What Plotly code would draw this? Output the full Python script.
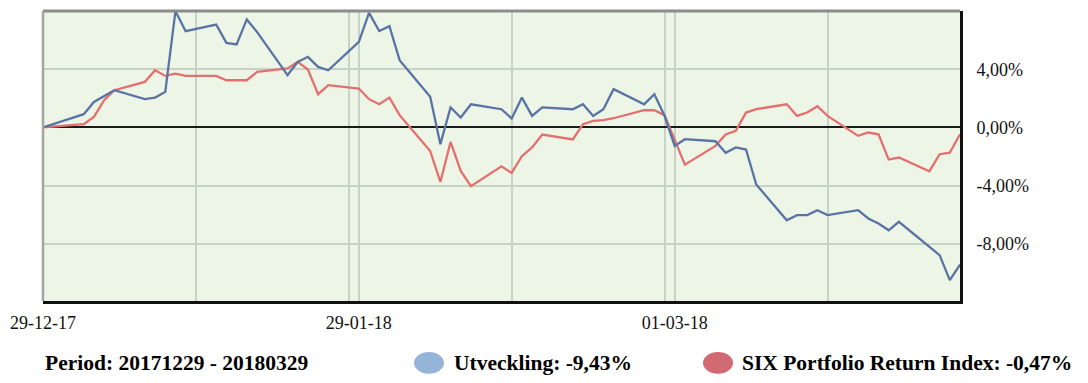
import plotly.graph_objects as go

dates = ["2017-12-29", "2018-01-02", "2018-01-03", "2018-01-04", "2018-01-05", "2018-01-08",
         "2018-01-09", "2018-01-10", "2018-01-11", "2018-01-12", "2018-01-15", "2018-01-16",
         "2018-01-17", "2018-01-18", "2018-01-19", "2018-01-22", "2018-01-23", "2018-01-24",
         "2018-01-25", "2018-01-26", "2018-01-29", "2018-01-30", "2018-01-31", "2018-02-01",
         "2018-02-02", "2018-02-05", "2018-02-06", "2018-02-07", "2018-02-08", "2018-02-09",
         "2018-02-12", "2018-02-13", "2018-02-14", "2018-02-15", "2018-02-16", "2018-02-19",
         "2018-02-20", "2018-02-21", "2018-02-22", "2018-02-23", "2018-02-26", "2018-02-27",
         "2018-02-28", "2018-03-01", "2018-03-02", "2018-03-05", "2018-03-06", "2018-03-07",
         "2018-03-08", "2018-03-09", "2018-03-12", "2018-03-13", "2018-03-14", "2018-03-15",
         "2018-03-16", "2018-03-19", "2018-03-20", "2018-03-21", "2018-03-22", "2018-03-23",
         "2018-03-26", "2018-03-27", "2018-03-28", "2018-03-29"]

utveckling = [0.0,
              0.91, 1.75, 2.17, 2.56, 1.94, 2.05, 2.44, 7.99, 6.61, 7.07, 5.81, 5.70, 7.42, 6.56,
              3.59, 4.50, 4.85, 4.16, 3.93, 5.88, 7.87, 6.62,
              6.96, 4.62, 2.10, -1.15, 1.37, 0.68, 1.59, 1.25, 0.61, 2.05, 0.79, 1.37, 1.25,
              1.59, 0.79, 1.25, 2.63, 1.59, 2.28, 0.80,
              -1.27, -0.81, -0.95, -1.75, -1.38, -1.52, -3.92, -6.38, -6.03, -6.03, -5.69,
              -6.03, -5.69, -6.26, -6.60, -7.07, -6.49, -8.21, -8.78, -10.50, -9.43]

six_index = [0.0,
             0.22, 0.72, 1.87, 2.56, 3.13, 3.93, 3.54, 3.70, 3.54, 3.54, 3.24, 3.24, 3.24, 3.81,
             4.05, 4.50, 3.98, 2.28, 2.90, 2.67, 1.94, 1.59,
             2.05, 0.84, -1.62, -3.75, -1.00, -2.99, -4.04, -2.67, -3.13, -1.98, -1.38, -0.49,
             -0.83, 0.22, 0.45, 0.50, 0.63, 1.18, 1.18, 0.84,
             -0.90, -2.56, -1.27, -0.49, -0.24, 1.02, 1.25, 1.59, 0.79, 1.02, 1.46, 0.79,
             -0.58, -0.35, -0.47, -2.21, -2.07, -3.01, -1.84, -1.73, -0.47]

grid_dates = ["2017-12-29", "2018-01-13", "2018-01-28", "2018-01-29", "2018-02-13",
              "2018-02-28", "2018-03-01", "2018-03-16"]
grid_labels = ["29-12-17", "", "", "29-01-18", "", "", "01-03-18", ""]

y_tickvals = [-8, -4, 0, 4]
y_ticktext = ["-8,00%", "-4,00%", "0,00%", "4,00%"]

period_text = "Period: 20171229 - 20180329"
legend_blue = "Utveckling: -9,43%"
legend_red = "SIX Portfolio Return Index: -0,47%"

BLUE = "#5A73A6"
RED = "#E3706E"
FONT = "Liberation Serif"

fig = go.Figure()
fig.add_trace(go.Scatter(x=dates, y=six_index, mode="lines", name="SIX",
                         line=dict(color=RED, width=2.3), showlegend=False))
fig.add_trace(go.Scatter(x=dates, y=utveckling, mode="lines", name="Utveckling",
                         line=dict(color=BLUE, width=2.3), showlegend=False))

fig.update_layout(
    width=1088, height=383,
    margin=dict(l=43, r=128, t=11, b=82),
    paper_bgcolor="white",
    plot_bgcolor="#EDF5E6",
    font=dict(family=FONT, size=18, color="#111111"),
    xaxis=dict(
        type="date",
        range=[dates[0], dates[-1]],
        tickmode="array", tickvals=grid_dates, ticktext=grid_labels,
        showgrid=True, gridcolor="#C6D3C6", gridwidth=2,
        ticks="outside", ticklen=3, tickcolor="rgba(0,0,0,0)",
        showline=True, linecolor="#111111", linewidth=3,
        tickfont=dict(family=FONT, size=18, color="#111111"),
        zeroline=False,
    ),
    yaxis=dict(
        side="right",
        range=[-11.93, 8.0],
        tickmode="array", tickvals=y_tickvals, ticktext=y_ticktext,
        showgrid=True, gridcolor="#C6D3C6", gridwidth=2,
        zeroline=True, zerolinecolor="#1a1a1a", zerolinewidth=2,
        showline=True, linecolor="#111111", linewidth=3,
        ticks="outside", ticklen=10, tickcolor="rgba(0,0,0,0)",
        tickfont=dict(family=FONT, size=18, color="#111111"),
    ),
    shapes=[
        dict(type="line", xref="paper", yref="paper", x0=0, x1=1, y0=1, y1=1,
             line=dict(color="#8C8C8C", width=3)),
        dict(type="line", xref="paper", yref="paper", x0=0, x1=0, y0=0, y1=1,
             line=dict(color="#A5A5A5", width=2.5)),
        dict(type="circle", xref="paper", yref="paper", x0=0.4046, x1=0.4373,
             y0=-0.2506, y1=-0.176, fillcolor="#94B4D8", line=dict(width=0)),
        dict(type="circle", xref="paper", yref="paper", x0=0.7197, x1=0.7525,
             y0=-0.2506, y1=-0.176, fillcolor="#D26A74", line=dict(width=0)),
    ],
    annotations=[
        dict(text="<b>" + period_text + "</b>", xref="paper", yref="paper",
             x=0.0, y=-0.215, xanchor="left", yanchor="middle", showarrow=False,
             font=dict(family=FONT, size=21.5, color="black")),
        dict(text="<b>" + legend_blue + "</b>", xref="paper", yref="paper",
             x=0.4457, y=-0.215, xanchor="left", yanchor="middle", showarrow=False,
             font=dict(family=FONT, size=21.5, color="black")),
        dict(text="<b>" + legend_red + "</b>", xref="paper", yref="paper",
             x=0.760, y=-0.215, xanchor="left", yanchor="middle", showarrow=False,
             font=dict(family=FONT, size=21.5, color="black")),
    ],
)

fig.write_html("out.html", config={"displayModeBar": False},
               post_script="document.body.style.margin='0';")
